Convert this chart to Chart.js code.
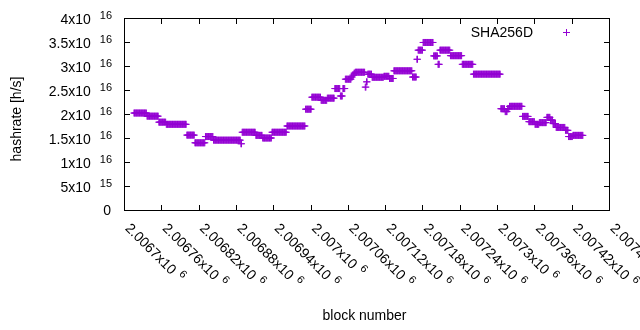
<!DOCTYPE html>
<html>
<head>
<meta charset="utf-8">
<script src="https://cdn.jsdelivr.net/npm/chart.js@4.4.0/dist/chart.umd.min.js"></script>
<style>
  html, body { margin: 0; padding: 0; background: #fff; }
</style>
</head>
<body>
<canvas id="hashChart" width="640" height="330"></canvas>
<script>
// runs of consecutive blocks that share one hashrate estimate
const runFirst = [2006716, 2006737, 2006756, 2006768, 2006801, 2006814, 2006831, 2006844, 2006888, 2006890,
  2006912, 2006923, 2006938, 2006962, 2006992, 2007002, 2007017, 2007027, 2007039, 2007048,
  2007052, 2007056, 2007066, 2007068, 2007070, 2007072, 2007088, 2007090, 2007092, 2007099,
  2007118, 2007127, 2007134, 2007164, 2007171, 2007173, 2007181, 2007198, 2007205, 2007208,
  2007225, 2007244, 2007262, 2007306, 2007313, 2007317, 2007320, 2007341, 2007351, 2007361,
  2007368, 2007380, 2007386, 2007390, 2007395, 2007410, 2007415, 2007422];
const runLast = [2006736, 2006755, 2006767, 2006800, 2006813, 2006830, 2006843, 2006887, 2006889, 2006911,
  2006922, 2006937, 2006961, 2006991, 2007001, 2007016, 2007026, 2007038, 2007047, 2007051,
  2007055, 2007065, 2007067, 2007069, 2007071, 2007087, 2007089, 2007091, 2007098, 2007117,
  2007126, 2007133, 2007163, 2007170, 2007172, 2007180, 2007197, 2007204, 2007207, 2007224,
  2007243, 2007261, 2007305, 2007312, 2007316, 2007319, 2007340, 2007350, 2007360, 2007367,
  2007379, 2007385, 2007389, 2007394, 2007409, 2007414, 2007421, 2007438];
const runHash = [2.02e16, 1.955e16, 1.83e16, 1.785e16, 1.56e16, 1.40e16, 1.53e16, 1.455e16, 1.38e16, 1.62e16,
  1.555e16, 1.50e16, 1.62e16, 1.75e16, 2.10e16, 2.35e16, 2.285e16, 2.33e16, 2.53e16, 2.375e16,
  2.53e16, 2.725e16, 2.77e16, 2.81e16, 2.85e16, 2.87e16, 2.56e16, 2.67e16, 2.83e16, 2.765e16,
  2.785e16, 2.74e16, 2.90e16, 2.77e16, 3.14e16, 3.33e16, 3.49e16, 3.21e16, 3.035e16, 3.33e16,
  3.215e16, 3.035e16, 2.83e16, 2.11e16, 2.05e16, 2.11e16, 2.16e16, 1.95e16, 1.84e16, 1.785e16,
  1.82e16, 1.93e16, 1.875e16, 1.80e16, 1.72e16, 1.66e16, 1.53e16, 1.555e16];

const xTicks = [2006700, 2006760, 2006820, 2006880, 2006940, 2007000, 2007060,
  2007120, 2007180, 2007240, 2007300, 2007360, 2007420, 2007480];
const xTickBase = ['2.0067x10', '2.00676x10', '2.00682x10', '2.00688x10', '2.00694x10', '2.007x10', '2.00706x10',
  '2.00712x10', '2.00718x10', '2.00724x10', '2.0073x10', '2.00736x10', '2.00742x10', '2.00748x10'];
const xTickExp = '6';
const yTicks = [0, 5e15, 1e16, 1.5e16, 2e16, 2.5e16, 3e16, 3.5e16, 4e16];
const yTickBase = ['0', '5x10', '1x10', '1.5x10', '2x10', '2.5x10', '3x10', '3.5x10', '4x10'];
const yTickExp = ['', '15', '16', '16', '16', '16', '16', '16', '16'];

const purple = '#9400d3';
const font = '"Liberation Sans", Arial, sans-serif';

const points = [];
runFirst.forEach((first, i) => {
    for (let b = first; b <= runLast[i]; b++) {
        points.push({ x: b, y: runHash[i] });
    }
});

// gnuplot-like frame, inward tics, labels and legend
const gnuplotFrame = {
    id: 'gnuplotFrame',
    afterDraw(chart) {
        const ctx = chart.ctx;
        const a = chart.chartArea;
        const xs = chart.scales.x, ys = chart.scales.y;
        ctx.save();
        ctx.strokeStyle = '#000';
        ctx.lineWidth = 1;
        ctx.strokeRect(a.left + 0.5, a.top + 0.5, a.right - a.left, a.bottom - a.top);

        ctx.beginPath();
        yTicks.forEach(v => {
            const py = Math.round(ys.getPixelForValue(v)) + 0.5;
            ctx.moveTo(a.left, py); ctx.lineTo(a.left + 6, py);
            ctx.moveTo(a.right + 1, py); ctx.lineTo(a.right - 5, py);
        });
        xTicks.forEach(v => {
            const px = Math.round(xs.getPixelForValue(v)) + 0.5;
            ctx.moveTo(px, a.bottom + 1); ctx.lineTo(px, a.bottom - 5);
            ctx.moveTo(px, a.top); ctx.lineTo(px, a.top + 6);
        });
        ctx.stroke();

        ctx.fillStyle = '#000';
        // y tick labels
        yTicks.forEach((v, i) => {
            const py = ys.getPixelForValue(v);
            ctx.textAlign = 'right';
            ctx.textBaseline = 'alphabetic';
            if (yTickExp[i]) {
                ctx.font = '11px ' + font;
                ctx.fillText(yTickExp[i], 112, py + 1);
                const w = ctx.measureText(yTickExp[i]).width;
                ctx.font = '14px ' + font;
                ctx.fillText(yTickBase[i], 112 - w - 9, py + 5.5);
            } else {
                ctx.font = '14px ' + font;
                ctx.fillText(yTickBase[i], 111, py + 5);
            }
        });
        // x tick labels, rotated by -45 degrees
        xTicks.forEach((v, i) => {
            const px = xs.getPixelForValue(v);
            ctx.save();
            ctx.translate(px + 0.5, a.bottom + 19);
            ctx.rotate(Math.PI / 4);
            ctx.textAlign = 'left';
            ctx.textBaseline = 'alphabetic';
            ctx.font = '14px ' + font;
            ctx.fillText(xTickBase[i], 0, 0);
            const w = ctx.measureText(xTickBase[i]).width;
            ctx.font = '11px ' + font;
            ctx.fillText(xTickExp, w + 5, -6);
            ctx.restore();
        });

        // axis titles
        ctx.font = '14px ' + font;
        ctx.textAlign = 'center';
        ctx.textBaseline = 'middle';
        ctx.fillText('block number', (a.left + a.right) / 2 - 2, 316);
        ctx.save();
        ctx.translate(17, 119);
        ctx.rotate(-Math.PI / 2);
        ctx.fillText('hashrate [h/s]', 0, 0);
        ctx.restore();

        // legend
        ctx.textAlign = 'right';
        ctx.textBaseline = 'alphabetic';
        ctx.fillText(chart.data.datasets[0].label, 533, 37);
        ctx.strokeStyle = purple;
        ctx.beginPath();
        ctx.moveTo(563, 32.5); ctx.lineTo(570, 32.5);
        ctx.moveTo(566.5, 29); ctx.lineTo(566.5, 36);
        ctx.stroke();
        ctx.restore();
    }
};

new Chart(document.getElementById('hashChart').getContext('2d'), {
    type: 'scatter',
    data: {
        datasets: [{
            label: 'SHA256D',
            data: points,
            showLine: false,
            pointStyle: 'cross',
            pointRadius: 3.5,
            pointBorderWidth: 1,
            borderColor: purple,
            backgroundColor: purple
        }]
    },
    options: {
        responsive: false,
        animation: false,
        events: [],
        layout: { padding: { left: 124, right: 31, top: 18, bottom: 120 } },
        plugins: {
            legend: { display: false },
            tooltip: { enabled: false }
        },
        scales: {
            x: { type: 'linear', min: 2006700, max: 2007480, display: false },
            y: { type: 'linear', min: 0, max: 4e16, display: false }
        }
    },
    plugins: [gnuplotFrame]
});
</script>
</body>
</html>
